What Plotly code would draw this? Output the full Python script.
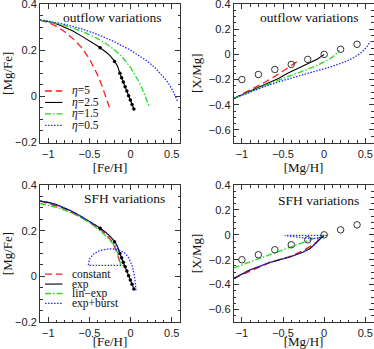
import plotly.graph_objects as go

# ---------------- outflow variations : [Mg/Fe] vs [Fe/H] ----------------
eta_labels = ["<i>η</i>=5", "<i>η</i>=2.5", "<i>η</i>=1.5", "<i>η</i>=0.5"]

eta5_feh = [-1.1, -1.0, -0.9, -0.8, -0.7, -0.6, -0.5, -0.45, -0.4, -0.35, -0.3, -0.25]
eta5_mgfe = [0.330, 0.320, 0.303, 0.280, 0.250, 0.213, 0.163, 0.128, 0.092, 0.048, 0.0, -0.055]

eta25_feh = [-1.1, -1.0, -0.9, -0.8, -0.7, -0.6, -0.5, -0.4, -0.3, -0.25, -0.2, -0.16,
             -0.13, -0.1, -0.05, 0.0, 0.04]
eta25_mgfe = [0.330, 0.324, 0.314, 0.300, 0.283, 0.262, 0.240, 0.218, 0.192, 0.176, 0.155,
              0.132, 0.100, 0.073, 0.027, -0.019, -0.055]

# output times marked on the fiducial model
dots_feh = [-0.37, -0.195, -0.13, -0.109, -0.088, -0.066, -0.045, -0.024, -0.003, 0.018, 0.04]
dots_mgfe = [0.211, 0.151, 0.100, 0.081, 0.062, 0.042, 0.023, 0.003, -0.016, -0.035, -0.055]

eta15_feh = [-1.1, -1.0, -0.8, -0.6, -0.4, -0.3, -0.2, -0.1, 0.0, 0.05, 0.1, 0.15, 0.2, 0.23]
eta15_mgfe = [0.330, 0.324, 0.307, 0.283, 0.250, 0.229, 0.203, 0.170, 0.125, 0.097, 0.064,
              0.025, -0.018, -0.048]

eta05_feh = [-1.1, -1.0, -0.8, -0.6, -0.4, -0.2, 0.0, 0.1, 0.2, 0.3, 0.4, 0.45, 0.5, 0.55, 0.57]
eta05_mgfe = [0.330, 0.326, 0.312, 0.293, 0.268, 0.237, 0.200, 0.178, 0.153, 0.123, 0.085,
              0.062, 0.033, -0.002, -0.020]

# ---------------- outflow variations : [X/Mg] vs [Mg/H] ----------------
eta5_mgh = [-1.1, -0.9, -0.75, -0.6, -0.45, -0.33]
eta5_xmg = [-0.35, -0.285, -0.232, -0.175, -0.110, -0.058]

eta25_mgh = [-1.1, -0.9, -0.7, -0.55, -0.45, -0.35, -0.25, -0.15, -0.08, 0.0]
eta25_xmg = [-0.35, -0.29, -0.233, -0.19, -0.152, -0.122, -0.092, -0.060, -0.036, 0.0]

eta15_mgh = [-1.1, -0.9, -0.7, -0.5, -0.3, -0.13, 0.0, 0.1, 0.19]
eta15_xmg = [-0.35, -0.295, -0.24, -0.19, -0.143, -0.10, -0.06, -0.022, 0.03]

eta05_mgh = [-1.1, -0.9, -0.7, -0.5, -0.3, -0.1, 0.1, 0.25, 0.35, 0.45, 0.52, 0.56]
eta05_xmg = [-0.35, -0.30, -0.25, -0.208, -0.17, -0.133, -0.095, -0.06, -0.03, 0.012, 0.06, 0.105]

obs_mgh = [-1.0, -0.8, -0.6, -0.4, -0.2, 0.0, 0.2, 0.4]
obs_xmg = [-0.20, -0.16, -0.12, -0.08, -0.04, 0.0, 0.04, 0.08]

# ---------------- SFH variations : [Mg/Fe] vs [Fe/H] ----------------
sfh_labels = ["constant", "exp", "lin\u2212exp", "exp+burst"]

const_feh = [-1.1, -0.8, -0.6, -0.4, -0.3, -0.22, -0.17, -0.13, -0.115]
const_mgfe = [0.330, 0.296, 0.258, 0.214, 0.185, 0.150, 0.107, 0.063, 0.045]

linexp_feh = [-1.1, -0.9, -0.7, -0.5, -0.31, -0.19, -0.15, -0.12]
linexp_mgfe = [0.319, 0.302, 0.276, 0.237, 0.180, 0.133, 0.095, 0.050]

burst_feh = [-1.1, -1.0, -0.8, -0.6, -0.4, -0.3, -0.2, -0.13, -0.088, -0.513, -0.5, -0.45,
             -0.38, -0.3, -0.22, -0.14, -0.07, -0.02, 0.02, 0.045, 0.06, 0.065]
burst_mgfe = [0.330, 0.324, 0.300, 0.262, 0.218, 0.192, 0.155, 0.100, 0.048, 0.048, 0.075,
              0.098, 0.112, 0.119, 0.120, 0.115, 0.102, 0.080, 0.045, 0.005, -0.035, -0.062]

# ---------------- SFH variations : [X/Mg] vs [Mg/H] ----------------
exp_mgh = [-1.1, -0.9, -0.66, -0.42, -0.26, -0.17, -0.09, 0.0]
exp_xmg = [-0.35, -0.28, -0.222, -0.178, -0.14, -0.11, -0.06, 0.0]

const_mgh = [-1.1, -0.66, -0.42, -0.25, -0.12, -0.05]
const_xmg = [-0.35, -0.222, -0.175, -0.126, -0.072, -0.032]

linexp_mgh = [-1.1, -0.85, -0.66, -0.42, -0.17, -0.05, -0.01]
linexp_xmg = [-0.265, -0.205, -0.16, -0.10, -0.04, -0.012, -0.003]

burst_mgh = [-1.1, -0.9, -0.66, -0.42, -0.26, -0.17, -0.09, -0.04, -0.48, -0.35, -0.2,
             -0.08, 0.0, 0.05]
burst_xmg = [-0.35, -0.28, -0.222, -0.178, -0.14, -0.11, -0.06, -0.005, -0.005, -0.018,
             -0.028, -0.028, -0.012, 0.005]

RED, BLACK, GREEN, BLUE = "#ff1a1a", "#000000", "#22dd22", "#2a2aff"
styles = [
    dict(color=RED, width=1.3, dash="7px,4px"),
    dict(color=BLACK, width=1.1, dash="solid"),
    dict(color=GREEN, width=1.3, dash="6px,2px,1.5px,2px"),
    dict(color=BLUE, width=1.3, dash="1.5px,1.5px"),
]

fig = go.Figure()


def add_line(x, y, style, ax):
    fig.add_trace(go.Scatter(x=x, y=y, mode="lines", line=style, xaxis="x" + ax,
                             yaxis="y" + ax, showlegend=False, hoverinfo="skip"))


def add_markers(x, y, marker, ax):
    fig.add_trace(go.Scatter(x=x, y=y, mode="markers", marker=marker, xaxis="x" + ax,
                             yaxis="y" + ax, showlegend=False, hoverinfo="skip"))


dot_marker = dict(color=BLACK, size=3.5)
circ_marker = dict(symbol="circle-open", color="#333", size=6.5, line=dict(width=1))

# panel 1
add_line(eta5_feh, eta5_mgfe, styles[0], "")
add_line(eta25_feh, eta25_mgfe, styles[1], "")
add_line(eta15_feh, eta15_mgfe, styles[2], "")
add_line(eta05_feh, eta05_mgfe, styles[3], "")
add_markers(dots_feh, dots_mgfe, dot_marker, "")

# panel 2
add_line(eta5_mgh, eta5_xmg, styles[0], "2")
add_line(eta25_mgh, eta25_xmg, styles[1], "2")
add_line(eta15_mgh, eta15_xmg, styles[2], "2")
add_line(eta05_mgh, eta05_xmg, styles[3], "2")
add_markers(obs_mgh, obs_xmg, circ_marker, "2")

# panel 3
add_line(const_feh, const_mgfe, styles[0], "3")
add_line(eta25_feh, eta25_mgfe, styles[1], "3")
add_line(linexp_feh, linexp_mgfe, styles[2], "3")
add_line(burst_feh, burst_mgfe, styles[3], "3")
add_markers(dots_feh, dots_mgfe, dot_marker, "3")

# panel 4
add_line(const_mgh, const_xmg, styles[0], "4")
add_line(exp_mgh, exp_xmg, styles[1], "4")
add_line(linexp_mgh, linexp_xmg, styles[2], "4")
add_line(burst_mgh, burst_xmg, styles[3], "4")
add_markers(obs_mgh, obs_xmg, circ_marker, "4")

W, H = 374, 349
left_dom = [40 / W, 180 / W]
right_dom = [233.7 / W, 373.5 / W]
top_dom = [1 - 142.5 / H, 1 - 4 / H]
bot_dom = [1 - 322 / H, 1 - 185 / H]

SERIF = "Liberation Serif"
SANS = "Liberation Sans"
FRAME = "#333333"

axis_common = dict(
    showline=True, linecolor=FRAME, linewidth=1, mirror="allticks",
    ticks="inside", ticklen=5, tickwidth=1, tickcolor=FRAME,
    showgrid=False, zeroline=False, automargin=False, ticklabeloverflow="allow",
    tickfont=dict(family=SANS, size=11, color="#222"),
    title_font=dict(family=SERIF, size=13, color="#111"),
)


def xax(domain, anchor, title):
    return dict(axis_common, domain=domain, anchor=anchor, range=[-1.1, 0.6],
                tick0=0, dtick=0.5, ticklabelstandoff=1, title=dict(text=title, standoff=1),
                minor=dict(ticks="inside", ticklen=2.5, tickcolor=FRAME, dtick=0.1, tick0=0))


def yax(domain, anchor, rng, title):
    return dict(axis_common, domain=domain, anchor=anchor, range=rng,
                tick0=0, dtick=0.2, title=dict(text=title, standoff=4),
                minor=dict(ticks="inside", ticklen=2.5, tickcolor=FRAME, dtick=0.05, tick0=0))


fig.update_layout(
    width=W, height=H, margin=dict(l=0, r=0, t=0, b=0),
    paper_bgcolor="white", plot_bgcolor="white", showlegend=False,
    xaxis=xax(left_dom, "y", "[Fe/H]"),
    yaxis=yax(top_dom, "x", [-0.2, 0.4], "[Mg/Fe]"),
    xaxis2=xax(right_dom, "y2", "[Mg/H]"),
    yaxis2=yax(top_dom, "x2", [-0.7, 0.4], "[X/Mg]"),
    xaxis3=xax(left_dom, "y3", "[Fe/H]"),
    yaxis3=yax(bot_dom, "x3", [-0.2, 0.4], "[Mg/Fe]"),
    xaxis4=xax(right_dom, "y4", "[Mg/H]"),
    yaxis4=yax(bot_dom, "x4", [-0.7, 0.4], "[X/Mg]"),
)

# panel labels
for ax, text, xc, yc in [("", "outflow variations", 0.52, 0.905), ("2", "outflow variations", 0.54, 0.9),
                         ("3", "SFH variations", 0.6, 0.9), ("4", "SFH variations", 0.61, 0.89)]:
    fig.add_annotation(text=text, xref=("x" + ax) + " domain", yref=("y" + ax) + " domain",
                       x=xc, y=yc, showarrow=False, xanchor="center", yanchor="middle",
                       font=dict(family=SERIF, size=13.5, color="#111"))

# legend keys and labels
for ax, labels, rows in [("", eta_labels, [0.372, 0.289, 0.206, 0.123]),
                         ("3", sfh_labels, [0.350, 0.277, 0.208, 0.136])]:
    for lab, st, yr in zip(labels, styles, rows):
        fig.add_shape(type="line", xref=("x" + ax) + " domain", yref=("y" + ax) + " domain",
                      x0=0.036, x1=0.16, y0=yr, y1=yr, line=st)
        fig.add_annotation(text=lab, xref=("x" + ax) + " domain", yref=("y" + ax) + " domain",
                           x=0.215, y=yr, showarrow=False, xanchor="left", yanchor="middle",
                           font=dict(family=SERIF, size=11.5, color="#111"))

# the page's default body margin would shift the figure; drop it
fig.write_html("out.html", config={"displayModeBar": False},
               post_script="document.body.style.margin = '0';")
